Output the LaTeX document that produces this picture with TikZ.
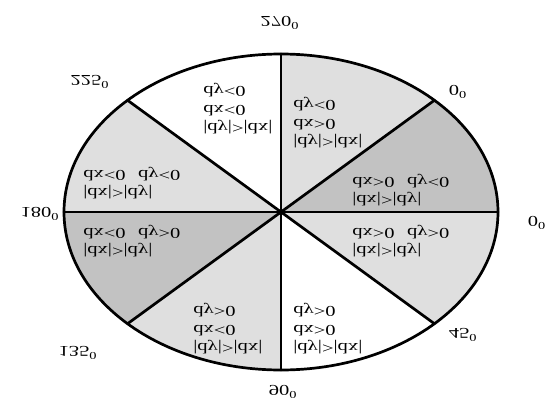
\documentclass[tikz,border=0pt]{standalone}
\usepackage{fontspec}
\setmainfont{Liberation Serif}
\definecolor{lightsec}{HTML}{DFDFDF}
\definecolor{darksec}{HTML}{C2C2C2}
\tikzset{
  outline/.style={
    draw=black, line width=2.7pt
  },
  divider/.style={
    line width=2.7pt, color=black, line cap=round
  },
  lightsector/.style={
    fill=lightsec
  },
  darksector/.style={
    fill=darksec
  },
  sectorlabel/.style={
    align=left, anchor=west, inner sep=0pt,
    xscale=1.37, yscale=-1,
    font=\fontsize{15}{18.5}\selectfont
  },
  anglelabel/.style={
    inner sep=0pt, xscale=1.37, yscale=-1,
    font=\fontsize{15}{18}\selectfont
  }
}

\begin{document}
\begin{tikzpicture}[x=1pt, y=-1pt]

  \useasboundingbox (0,0) rectangle (550,405);

  % ── Centre and rim points ─────────────────────────────────────────────
  \coordinate (O)    at (281,212);
  \coordinate (p0)   at (498,212);
  \coordinate (p45)  at (434.4,323.7);
  \coordinate (p90)  at (281,370);
  \coordinate (p135) at (127.6,323.7);
  \coordinate (p180) at (64,212);
  \coordinate (p225) at (127.6,100.3);
  \coordinate (p270) at (281,54);
  \coordinate (p315) at (434.4,100.3);

  % ── Shaded sectors ────────────────────────────────────────────────────
  \fill[lightsector] (O) -- (p0)   arc[start angle=0,   end angle=45,  x radius=217, y radius=158] -- cycle;
  \fill[lightsector] (O) -- (p90)  arc[start angle=90,  end angle=135, x radius=217, y radius=158] -- cycle;
  \fill[darksector]  (O) -- (p135) arc[start angle=135, end angle=180, x radius=217, y radius=158] -- cycle;
  \fill[lightsector] (O) -- (p180) arc[start angle=180, end angle=225, x radius=217, y radius=158] -- cycle;
  \fill[lightsector] (O) -- (p270) arc[start angle=270, end angle=315, x radius=217, y radius=158] -- cycle;
  \fill[darksector]  (O) -- (p315) arc[start angle=315, end angle=360, x radius=217, y radius=158] -- cycle;

  % ── Rim and dividers ──────────────────────────────────────────────────
  \draw[outline] (O) ellipse[x radius=217, y radius=158];
  \draw[divider] (p180) -- (p0);
  \draw[divider] (p270) -- (p90);
  \draw[divider] (p225) -- (p45);
  \draw[divider] (p135) -- (p315);

  % ── Sector texts ──────────────────────────────────────────────────────
  \node[sectorlabel] (s225) at (203,109) {|dy|>|dx|\\dx<0\\dy<0};
  \node[sectorlabel] (s270) at (293,123) {|dy|>|dx|\\dx>0\\dy<0};
  \node[sectorlabel] (s315) at (352,190) {|dx|>|dy|\\dx>0\hspace{0.6em}dy<0};
  \node[sectorlabel] (s0)   at (352,241) {|dx|>|dy|\\dx>0\hspace{0.6em}dy>0};
  \node[sectorlabel] (s45)  at (293,329) {|dy|>|dx|\\dx>0\\dy>0};
  \node[sectorlabel] (s90)  at (193,329) {|dy|>|dx|\\dx<0\\dy>0};
  \node[sectorlabel] (s135) at (83,241)  {|dx|>|dy|\\dx<0\hspace{0.6em}dy>0};
  \node[sectorlabel] (s180) at (83,183)  {|dx|>|dy|\\dx<0\hspace{0.6em}dy<0};

  % ── Angle marks ───────────────────────────────────────────────────────
  \node[anglelabel] (a270) at (280,23)  {270\textsuperscript{0}};
  \node[anglelabel] (a225) at (90,82)   {225\textsuperscript{0}};
  \node[anglelabel] (a315) at (458,92)  {0\textsuperscript{0}};
  \node[anglelabel] (a0)   at (537,223) {0\textsuperscript{0}};
  \node[anglelabel] (a45)  at (463,335) {45\textsuperscript{0}};
  \node[anglelabel] (a90)  at (283,392) {90\textsuperscript{0}};
  \node[anglelabel] (a135) at (78,353)  {135\textsuperscript{0}};
  \node[anglelabel] (a180) at (40,214)  {180\textsuperscript{0}};

\end{tikzpicture}
\end{document}
